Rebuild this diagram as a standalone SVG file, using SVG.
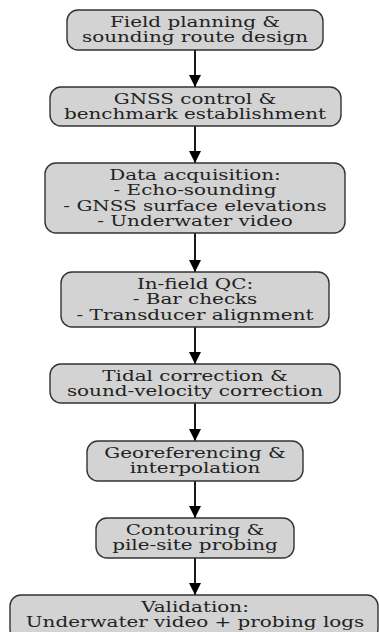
<svg xmlns="http://www.w3.org/2000/svg" width="379" height="632" viewBox="0 0 379 632">
  <style>
    .box { fill: #d3d3d3; stroke: #333333; stroke-width: 1.4; }
    .lbl { font-family: "DejaVu Serif", "Liberation Serif", serif; font-size: 15px; fill: #222222; text-anchor: middle; }
    .edge { stroke: #000000; stroke-width: 1.8; fill: none; }
  </style>
  <defs>
    <marker id="arrow" viewBox="0 0 12 12" refX="12" refY="6" markerWidth="12" markerHeight="12" markerUnits="userSpaceOnUse" orient="auto">
      <path d="M0,0 L12,6 L0,12 z" fill="#000000"/>
    </marker>
  </defs>
  <rect width="379" height="632" fill="#ffffff"/>

  <g id="edges">
    <line class="edge" x1="195" y1="50" x2="195" y2="87" marker-end="url(#arrow)"/>
    <line class="edge" x1="195" y1="126" x2="195" y2="163" marker-end="url(#arrow)"/>
    <line class="edge" x1="195" y1="233" x2="195" y2="272" marker-end="url(#arrow)"/>
    <line class="edge" x1="195" y1="327" x2="195" y2="364" marker-end="url(#arrow)"/>
    <line class="edge" x1="195" y1="403" x2="195" y2="441" marker-end="url(#arrow)"/>
    <line class="edge" x1="195" y1="481" x2="195" y2="518" marker-end="url(#arrow)"/>
    <line class="edge" x1="195" y1="558" x2="195" y2="595" marker-end="url(#arrow)"/>
  </g>

  <g id="n1">
    <rect class="box" x="67" y="10" width="256" height="40" rx="11"/>
    <g transform="translate(195 0) scale(1.33 1)">
      <text class="lbl" x="0" y="27">Field planning &amp;</text>
      <text class="lbl" x="0" y="42.5">sounding route design</text>
    </g>
  </g>
  <g id="n2">
    <rect class="box" x="50" y="87" width="291" height="39" rx="11"/>
    <g transform="translate(195 0) scale(1.33 1)">
      <text class="lbl" x="0" y="104">GNSS control &amp;</text>
      <text class="lbl" x="0" y="119.5">benchmark establishment</text>
    </g>
  </g>
  <g id="n3">
    <rect class="box" x="45" y="163" width="300" height="70" rx="11"/>
    <g transform="translate(195 0) scale(1.33 1)">
      <text class="lbl" x="0" y="180">Data acquisition:</text>
      <text class="lbl" x="0" y="195.5">- Echo-sounding</text>
      <text class="lbl" x="0" y="211">- GNSS surface elevations</text>
      <text class="lbl" x="0" y="226.5">- Underwater video</text>
    </g>
  </g>
  <g id="n4">
    <rect class="box" x="61" y="272" width="268" height="55" rx="11"/>
    <g transform="translate(195 0) scale(1.33 1)">
      <text class="lbl" x="0" y="289">In-field QC:</text>
      <text class="lbl" x="0" y="304.5">- Bar checks</text>
      <text class="lbl" x="0" y="320">- Transducer alignment</text>
    </g>
  </g>
  <g id="n5">
    <rect class="box" x="50" y="364" width="290" height="39" rx="11"/>
    <g transform="translate(195 0) scale(1.33 1)">
      <text class="lbl" x="0" y="381">Tidal correction &amp;</text>
      <text class="lbl" x="0" y="396.5">sound-velocity correction</text>
    </g>
  </g>
  <g id="n6">
    <rect class="box" x="87" y="441" width="216" height="40" rx="11"/>
    <g transform="translate(195 0) scale(1.33 1)">
      <text class="lbl" x="0" y="458">Georeferencing &amp;</text>
      <text class="lbl" x="0" y="473.5">interpolation</text>
    </g>
  </g>
  <g id="n7">
    <rect class="box" x="96" y="518" width="198" height="40" rx="11"/>
    <g transform="translate(195 0) scale(1.33 1)">
      <text class="lbl" x="0" y="535">Contouring &amp;</text>
      <text class="lbl" x="0" y="550.5">pile-site probing</text>
    </g>
  </g>
  <g id="n8">
    <rect class="box" x="10" y="595" width="368" height="45" rx="11"/>
    <g transform="translate(195 0) scale(1.33 1)">
      <text class="lbl" x="0" y="612">Validation:</text>
      <text class="lbl" x="0" y="627.5">Underwater video + probing logs</text>
    </g>
  </g>
</svg>
